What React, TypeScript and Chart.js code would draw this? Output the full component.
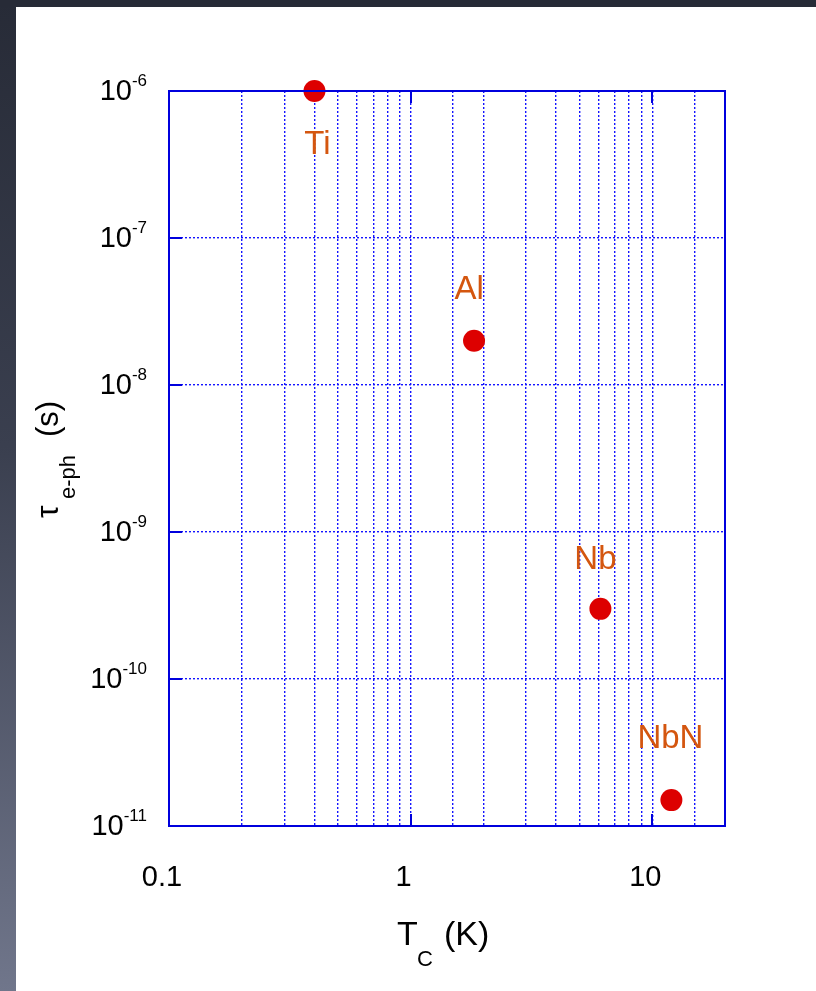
import React, { useEffect, useRef } from "react";
import { Chart, registerables } from "chart.js";

Chart.register(...registerables);

// Materials and their values
const materials = ["Ti", "Al", "Nb", "NbN"];
const criticalTemps = [0.4, 1.83, 6.1, 12.0]; // T_C (K)
const relaxTimes = [1e-6, 2e-8, 3e-10, 1.5e-11]; // tau_e-ph (s)

// Tick labels
const xTickValues = [0.1, 1, 10];
const xTickLabels = ["0.1", "1", "10"];
const yTickValues = [1e-6, 1e-7, 1e-8, 1e-9, 1e-10, 1e-11];
const yTickExponents = ["-6", "-7", "-8", "-9", "-10", "-11"];

// Label offset (px) from each point's centre to its text centre
const labelOffsets = [
  [3, 54],
  [-5, -51],
  [-5, -49],
  [-1, -61],
];

const FONT = '"Liberation Sans", Arial, sans-serif';
const BLUE = "#0000dd";
const GRID = "#1414ff";
const LABEL = "#d4560f";

const isDecade = (v: number) => {
  const l = Math.log10(v);
  return Math.abs(l - Math.round(l)) < 1e-6;
};

const overlay = {
  id: "overlay",
  afterDraw(chart: any) {
    const { ctx, chartArea: a, scales } = chart;
    const xs = scales.x;
    const ys = scales.y;
    ctx.save();

    // inner tick marks on major values
    ctx.strokeStyle = BLUE;
    ctx.lineWidth = 2;
    ctx.setLineDash([]);
    xTickValues.forEach((v) => {
      const px = Math.round(xs.getPixelForValue(v));
      if (px <= a.left + 1) return;
      ctx.beginPath();
      ctx.moveTo(px, a.top);
      ctx.lineTo(px, a.top + 12);
      ctx.moveTo(px, a.bottom);
      ctx.lineTo(px, a.bottom - 12);
      ctx.stroke();
    });
    yTickValues.forEach((v) => {
      const py = Math.round(ys.getPixelForValue(v));
      ctx.beginPath();
      ctx.moveTo(a.left, py);
      ctx.lineTo(a.left + 13, py);
      ctx.stroke();
    });

    // plot frame
    ctx.strokeRect(a.left, a.top, a.right - a.left, a.bottom - a.top);

    // x tick labels
    ctx.fillStyle = "#000";
    ctx.font = `29px ${FONT}`;
    ctx.textAlign = "center";
    ctx.textBaseline = "alphabetic";
    xTickValues.forEach((v, i) => {
      const px = xs.getPixelForValue(v);
      ctx.fillText(xTickLabels[i], px - 7, 886);
    });

    // y tick labels: 10 with superscript exponent
    yTickValues.forEach((v, i) => {
      const py = ys.getPixelForValue(v);
      ctx.font = `17px ${FONT}`;
      const ew = ctx.measureText(yTickExponents[i]).width;
      ctx.font = `29px ${FONT}`;
      const bw = ctx.measureText("10").width;
      const right = 147;
      ctx.textAlign = "left";
      ctx.fillText("10", right - ew - bw, py + 9);
      ctx.font = `17px ${FONT}`;
      ctx.fillText(yTickExponents[i], right - ew, py - 5);
    });

    // x axis title: T_C (K)
    ctx.textAlign = "left";
    ctx.font = `34px ${FONT}`;
    ctx.fillText("T", 397, 945);
    ctx.font = `22px ${FONT}`;
    ctx.fillText("C", 417, 966);
    ctx.font = `34px ${FONT}`;
    ctx.fillText("(K)", 444, 945);

    // y axis title: tau_e-ph (s)
    ctx.save();
    ctx.translate(58, 518);
    ctx.rotate(-Math.PI / 2);
    ctx.font = `32px ${FONT}`;
    ctx.fillText("\u03c4", 0, 0);
    ctx.font = `22px ${FONT}`;
    ctx.fillText("e-ph", 19, 17);
    ctx.font = `31px ${FONT}`;
    ctx.fillText("(s)", 81, 0);
    ctx.restore();

    // material labels
    const meta = chart.getDatasetMeta(0);
    ctx.fillStyle = LABEL;
    ctx.font = `33px ${FONT}`;
    ctx.textAlign = "center";
    ctx.textBaseline = "middle";
    meta.data.forEach((pt: any, i: number) => {
      ctx.fillText(materials[i], pt.x + labelOffsets[i][0], pt.y + labelOffsets[i][1]);
    });

    ctx.restore();
  },
};

export default function App() {
  const ref = useRef<HTMLCanvasElement | null>(null);

  useEffect(() => {
    document.body.style.margin = "0";
    if (!ref.current) return;
    const chart = new Chart(ref.current, {
      type: "scatter",
      data: {
        datasets: [
          {
            data: criticalTemps.map((x, i) => ({ x, y: relaxTimes[i] })),
            backgroundColor: "#dd0000",
            borderWidth: 0,
            pointRadius: 11,
            pointHoverRadius: 11,
            clip: false,
          },
        ],
      },
      options: {
        animation: false,
        responsive: false,
        events: [],
        layout: { padding: { top: 91, right: 91, left: 0, bottom: 0 } },
        plugins: { legend: { display: false }, tooltip: { enabled: false } },
        scales: {
          x: {
            type: "logarithmic",
            min: 0.1,
            max: 20,
            ticks: { display: false },
            border: { display: false, dash: [2, 2] },
            grid: {
              drawTicks: false,
              color: GRID,
              lineWidth: 1.4,
            },
            afterFit: (s: any) => {
              s.height = 165;
            },
          },
          y: {
            type: "logarithmic",
            min: 1e-11,
            max: 1e-6,
            ticks: { display: false },
            border: { display: false, dash: [2, 2] },
            grid: {
              drawTicks: false,
              lineWidth: 1.4,
              color: (c: any) =>
                c.tick && isDecade(c.tick.value) ? GRID : "rgba(0,0,0,0)",
            },
            afterFit: (s: any) => {
              s.width = 169;
            },
          },
        },
      },
      plugins: [overlay],
    } as any);
    return () => chart.destroy();
  }, []);

  return (
    <div
      style={{
        position: "relative",
        width: 816,
        height: 991,
        overflow: "hidden",
        background: "linear-gradient(#272b37, #3a3f4f 45%, #70768b)",
      }}
    >
      <div style={{ position: "absolute", left: 0, top: 0, width: 816, height: 7, background: "#272b37" }} />
      <div style={{ position: "absolute", left: 16, top: 7, right: 0, bottom: 0, background: "#ffffff" }} />
      <canvas
        ref={ref}
        width={816}
        height={991}
        style={{ position: "absolute", left: 0, top: 0, width: 816, height: 991 }}
      />
    </div>
  );
}
